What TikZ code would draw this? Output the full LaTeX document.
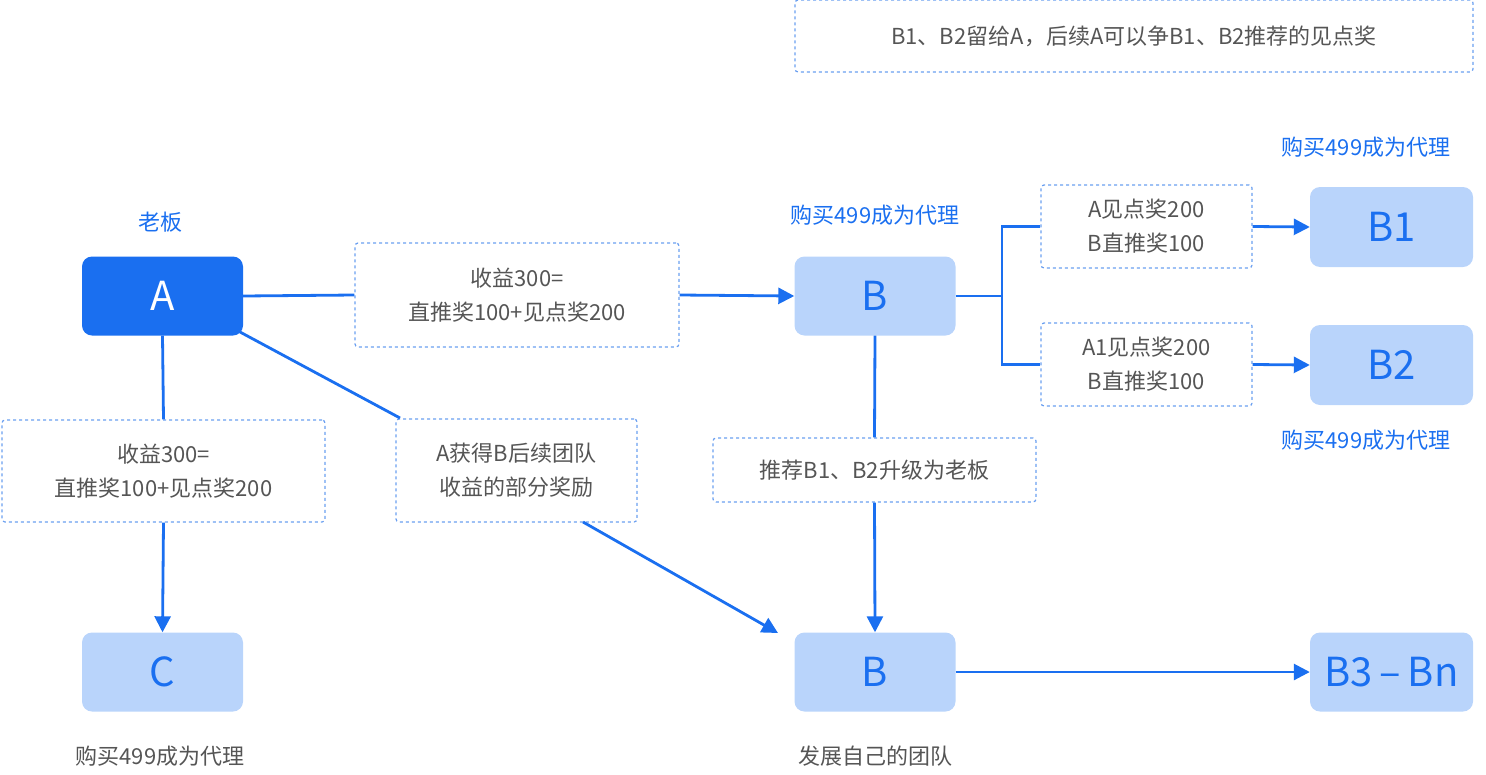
\documentclass[tikz,border=0pt]{standalone}
\usepackage{fontspec}
\setmainfont{Noto Sans CJK SC}
\usetikzlibrary{arrows.meta}
\definecolor{dblue}{HTML}{1A6FF0}
\definecolor{lblue}{HTML}{B9D4FB}
\definecolor{dash}{HTML}{6A9FF0}
\definecolor{gtext}{HTML}{555555}
\begin{document}
\begin{tikzpicture}[x=1pt,y=-1pt,
  big/.style={draw=none,rounded corners=10pt,minimum width=161pt,minimum height=79pt,font=\fontsize{40}{40}\selectfont},
  lb/.style={big,fill=lblue,text=dblue},
  db/.style={big,fill=dblue,text=white},
  dbox/.style={draw=dash,dashed,line width=1.2pt,rounded corners=3pt,text=gtext,align=center,font=\fontsize{22}{34}\selectfont,inner sep=0pt},
  blab/.style={text=dblue,font=\fontsize{22}{26}\selectfont},
  con/.style={draw=dblue,line width=2.8pt},
  arr/.style={con,-{Triangle[length=16pt,width=16pt]}}]
\useasboundingbox (0,0) rectangle (1486,774);
\node[db] (A) at (162.5,296) {A};
\node[lb] (B) at (875,296) {B};
\node[lb,minimum width=163pt,minimum height=80pt] (B1) at (1391.5,227) {B1};
\node[lb,minimum width=163pt,minimum height=80pt] (B2) at (1391.5,365) {B2};
\node[lb] (C) at (162.5,672) {C};
\node[lb] (Bb) at (875,672) {B};
\node[lb,minimum width=163pt] (Bn) at (1391.5,672) {B3\,–\,Bn};
\node[blab] (lA) at (160,222) {老板};
\node[blab] (lB) at (875,215) {购买499成为代理};
\node[blab] (lB1) at (1366,147) {购买499成为代理};
\node[blab] (lB2) at (1366,440) {购买499成为代理};
\node[text=gtext,font=\fontsize{22}{26}\selectfont] (lC) at (160,756) {购买499成为代理};
\node[text=gtext,font=\fontsize{22}{26}\selectfont] (lBb) at (875,756) {发展自己的团队};
\node[dbox,minimum width=678pt,minimum height=72pt] (top) at (1134,36) {B1、B2留给A，后续A可以争B1、B2推荐的见点奖};
\node[dbox,minimum width=324pt,minimum height=104pt] (k1) at (517,295) {收益300=\\直推奖100+见点奖200};
\node[dbox,minimum width=323pt,minimum height=102pt] (k2) at (163.5,471) {收益300=\\直推奖100+见点奖200};
\node[dbox,minimum width=241pt,minimum height=103pt] (k3) at (516.5,470.5) {A获得B后续团队\\收益的部分奖励};
\node[dbox,minimum width=323pt,minimum height=64pt] (k4) at (874.5,470) {推荐B1、B2升级为老板};
\node[dbox,minimum width=211pt,minimum height=83pt] (k5) at (1146.5,226.5) {A见点奖200\\B直推奖100};
\node[dbox,minimum width=211pt,minimum height=83pt] (k6) at (1146.5,364.5) {A1见点奖200\\B直推奖100};
\coordinate (j) at (1002,296);
\coordinate (d1) at (400,418);
\coordinate (d2) at (583,522);
\draw[con] (A.east) -- (k1.west);
\draw[arr] (k1.east) -- (B.west);
\draw[con] (A.south) -- (k2.north);
\draw[arr] (k2.south) -- (C.north);
\draw[con] (240,332) -- (d1);
\draw[arr] (d2) -- (778,633);
\draw[con] (B.south) -- (k4.north);
\draw[arr] (k4.south) -- (Bb.north);
\draw[arr] (Bb.east) -- (Bn.west);
\draw[con] (B.east) -- (j);
\draw[con] (k5.west) -| (j) |- (k6.west);
\draw[arr] (k5.east) -- (B1.west);
\draw[arr] (k6.east) -- (B2.west);
\end{tikzpicture}
\end{document}
